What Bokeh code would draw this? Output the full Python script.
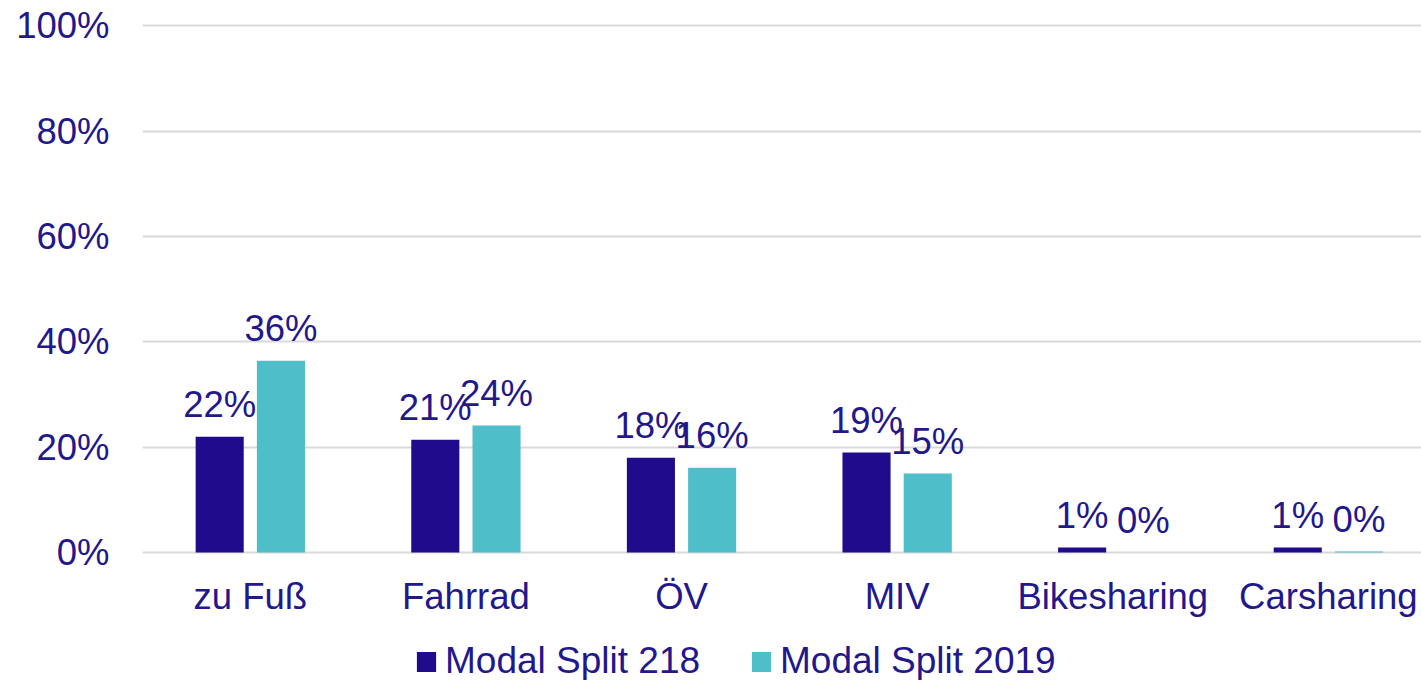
import numpy as np
from bokeh.plotting import figure
from bokeh.models import Range1d, FixedTicker, Legend, LegendItem
from bokeh.core.properties import value
from bokeh.embed import file_html
from bokeh.resources import INLINE

categories = ["zu Fuß", "Fahrrad", "ÖV", "MIV", "Bikesharing", "Carsharing"]
series_names = ["Modal Split 218", "Modal Split 2019"]
values_218 = [22.0, 21.4, 18.0, 19.0, 0.95, 0.95]
values_2019 = [36.4, 24.1, 16.1, 15.0, 0.0, 0.2]
y_ticks = [0, 20, 40, 60, 80, 100]
y_tick_labels = ["0%", "20%", "40%", "60%", "80%", "100%"]

labels_218 = [f"{round(v)}%" for v in values_218]
labels_2019 = [f"{round(v)}%" for v in values_2019]

NAVY = "#1F0B8C"
TEAL = "#4EBEC8"
TEXT = "#22178C"
FONT = "Liberation Sans"
FS = "36.5px"
GRID = "#D9D9D9"

xs = np.arange(len(categories)) + 0.5
offset = 0.142
bar_w = 0.223

# frame: top at 25, 5.27 px per percent; extended below 0 to hold labels + legend
p = figure(width=1421, height=680, output_backend="svg", toolbar_location=None,
           x_range=Range1d(0, 5.932), y_range=Range1d(-24.27, 100.4),
           min_border_left=142, min_border_right=0, min_border_top=23, min_border_bottom=0)
p.outline_line_color = None
p.xgrid.grid_line_color = None
p.ygrid.grid_line_color = GRID
p.ygrid.grid_line_width = 2
p.xaxis.visible = False

r1 = p.vbar(x=xs - offset, top=values_218, width=bar_w, fill_color=NAVY, line_color=None)
r2 = p.vbar(x=xs + offset, top=values_2019, width=bar_w, fill_color=TEAL, line_color=None)

for xv, vals, labs in ((xs - offset, values_218, labels_218), (xs + offset, values_2019, labels_2019)):
    p.text(x=xv, y=vals, text=labs, text_align="center", text_baseline="alphabetic",
           y_offset=-32, text_font=value(FONT), text_font_size=FS, text_color=TEXT)

# category labels under the zero line
p.text(x=xs, y=[0] * len(categories), text=categories, text_align="center",
       text_baseline="alphabetic", y_offset=44, text_font=value(FONT),
       text_font_size=FS, text_color=TEXT)

yax = p.yaxis[0]
yax.ticker = FixedTicker(ticks=y_ticks)
yax.major_label_overrides = {t: l for t, l in zip(y_ticks, y_tick_labels)}
yax.axis_line_color = None
yax.major_tick_line_color = None
yax.minor_tick_line_color = None
yax.major_label_text_font = FONT
yax.major_label_text_font_size = FS
yax.major_label_text_color = TEXT
yax.major_label_standoff = 27

legend = Legend(items=[LegendItem(label=series_names[0], renderers=[r1]),
                       LegendItem(label=series_names[1], renderers=[r2])],
                orientation="horizontal", location=(272, -2),
                label_text_font=FONT, label_text_font_size="37px", label_text_color=TEXT,
                glyph_width=24, glyph_height=25, label_standoff=7, spacing=49,
                padding=0, margin=0, border_line_color=None, background_fill_alpha=0)
p.add_layout(legend, "center")

open("out.html", "w").write(file_html(p, INLINE))
